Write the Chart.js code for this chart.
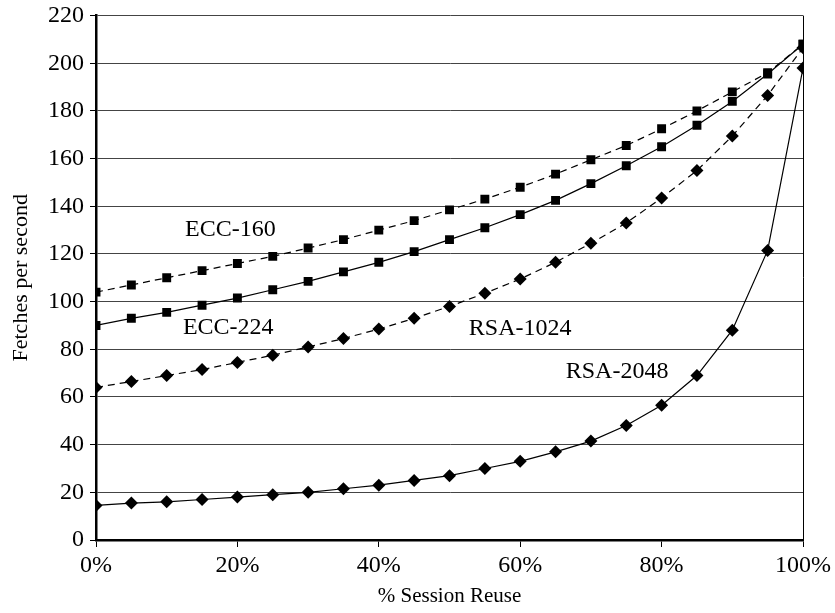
<!DOCTYPE html>
<html>
<head>
<meta charset="utf-8">
<script src="https://cdn.jsdelivr.net/npm/chart.js@4.4.0/dist/chart.umd.min.js"></script>
<style>
  html, body { margin: 0; padding: 0; background: #fff; }
  #wrap { width: 835px; height: 613px; }
</style>
</head>
<body>
<div id="wrap"><canvas id="chart" width="835" height="613"></canvas></div>
<script>
// % de reutilización de sesión
const reuse = [0, 5, 10, 15, 20, 25, 30, 35, 40, 45, 50, 55, 60, 65, 70, 75, 80, 85, 90, 95, 100];

// Series (fetches por segundo)
const ecc160 = [104, 107, 110, 113, 116, 119, 122.5, 126, 130, 134, 138.5, 143, 148, 153.5, 159.5, 165.5, 172.5, 180, 188, 196, 208];
const ecc224 = [90, 93, 95.5, 98.5, 101.5, 105, 108.5, 112.5, 116.5, 121, 126, 131, 136.5, 142.5, 149.5, 157, 165, 174, 184, 195.5, 208];
const rsa1024 = [64, 66.5, 69, 71.5, 74.5, 77.5, 81, 84.5, 88.5, 93, 98, 103.5, 109.5, 116.5, 124.5, 133, 143.5, 155, 169.5, 186.5, 206.5];
const rsa2048 = [14.5, 15.5, 16, 17, 18, 19, 20, 21.5, 23, 25, 27, 30, 33, 37, 41.5, 48, 56.5, 69, 88, 121.5, 198];

// Etiquetas de las series dentro del gráfico
const seriesNames = ['ECC-160', 'ECC-224', 'RSA-1024', 'RSA-2048'];
const labelX = [19, 18.7, 60, 73.7];
const labelY = [130, 89, 88.5, 70.6];

const FONT = "'Liberation Serif', 'Times New Roman', serif";

function toPoints(arr) {
    return arr.map((v, i) => ({ x: reuse[i], y: v }));
}

// Plugin para dibujar los nombres de las series
const seriesLabels = {
    id: 'seriesLabels',
    afterDatasetsDraw(chart) {
        const ctx = chart.ctx;
        const xs = chart.scales.x;
        const ys = chart.scales.y;
        ctx.save();
        ctx.fillStyle = '#000';
        ctx.font = '24px ' + FONT;
        ctx.textAlign = 'center';
        ctx.textBaseline = 'middle';
        seriesNames.forEach((name, i) => {
            ctx.fillText(name, xs.getPixelForValue(labelX[i]), ys.getPixelForValue(labelY[i]));
        });
        ctx.restore();
    }
};

function makeDataset(label, values, dashed, style) {
    return {
        label: label,
        data: toPoints(values),
        borderColor: '#000',
        backgroundColor: '#000',
        borderWidth: 1.2,
        borderDash: dashed ? [7, 5] : [],
        pointStyle: style,
        pointRadius: style === 'rect' ? 6.3 : 6.5,
        pointBorderWidth: 0,
        tension: 0,
        fill: false
    };
}

new Chart(document.getElementById('chart'), {
    type: 'line',
    data: {
        datasets: [
            makeDataset('ECC-160', ecc160, true, 'rect'),
            makeDataset('ECC-224', ecc224, false, 'rect'),
            makeDataset('RSA-1024', rsa1024, true, 'rectRot'),
            makeDataset('RSA-2048', rsa2048, false, 'rectRot')
        ]
    },
    options: {
        responsive: false,
        animation: false,
        layout: { padding: { top: 15, right: 32, left: 8, bottom: 4 } },
        plugins: {
            legend: { display: false },
            tooltip: { enabled: false }
        },
        scales: {
            x: {
                type: 'linear',
                min: 0,
                max: 100,
                ticks: {
                    stepSize: 20,
                    color: '#000',
                    font: { family: FONT, size: 24 },
                    padding: 4,
                    maxRotation: 0,
                    callback: v => v + '%'
                },
                grid: {
                    color: c => (c.tick && c.tick.value === 100) ? '#000' : 'rgba(0,0,0,0)',
                    tickColor: '#000',
                    tickLength: 7,
                    lineWidth: 1
                },
                border: { color: '#000', width: 2.5 },
                title: {
                    display: true,
                    text: '% Session Reuse',
                    color: '#000',
                    font: { family: FONT, size: 21 },
                    padding: { top: 0, bottom: 0 }
                },
                afterFit(scale) { scale.height = 69; }
            },
            y: {
                min: 0,
                max: 220,
                ticks: {
                    stepSize: 20,
                    color: '#000',
                    font: { family: FONT, size: 24, lineHeight: 0.8 },
                    padding: 6
                },
                grid: {
                    color: '#444',
                    tickColor: '#000',
                    tickLength: 6,
                    lineWidth: 1
                },
                border: { color: '#000', width: 2.5 },
                title: {
                    display: true,
                    text: 'Fetches per second',
                    color: '#000',
                    font: { family: FONT, size: 22 },
                    padding: { top: 0, bottom: 4 }
                },
                afterFit(scale) { scale.width = 88; }
            }
        }
    },
    plugins: [seriesLabels]
});
</script>
</body>
</html>
